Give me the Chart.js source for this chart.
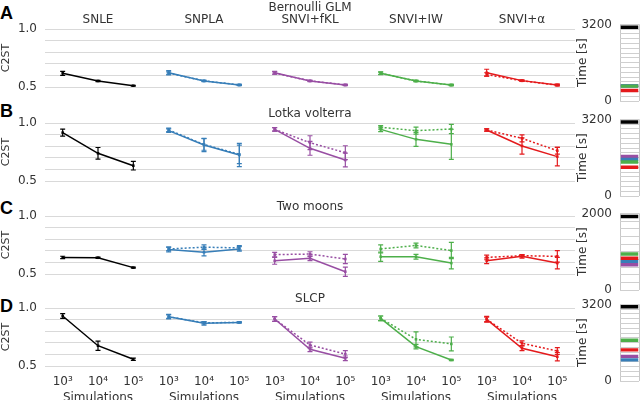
<!DOCTYPE html>
<html>
<head>
<meta charset="utf-8">
<script src="https://cdn.jsdelivr.net/npm/chart.js@4/dist/chart.umd.min.js"></script>
<style>
  body { margin: 0; width: 640px; height: 400px; position: relative; background: #fff; overflow: hidden; }
  .letter { position: absolute; left: 0; font: bold 18px "Liberation Sans", Arial, sans-serif; color: #000; line-height: 18px; }
</style>
</head>
<body>
<div class="letter" style="top:4px">A</div>
<div class="letter" style="top:102px">B</div>
<div class="letter" style="top:199px">C</div>
<div class="letter" style="top:297px">D</div>
<script>
const methods = ['SNLE', 'SNPLA', 'SNVI+fKL', 'SNVI+IW', 'SNVI+α'];
const colors = ['#000000', '#377eb8', '#984ea3', '#4daf4a', '#e41a1c'];
const simLabels = ['10³', '10⁴', '10⁵'];
const rowTitles = ['Bernoulli GLM', 'Lotka volterra', 'Two moons', 'SLCP'];

// C2ST per method at 10^3, 10^4, 10^5 simulations (solid / dotted runs)
const glmSolid = [[0.618, 0.552, 0.511], [0.623, 0.552, 0.517], [0.623, 0.552, 0.517], [0.618, 0.552, 0.517], [0.623, 0.555, 0.517]];
const glmSolidErr = [[0.017, 0.005, 0.004], [0.018, 0.006, 0.006], [0.012, 0.005, 0.006], [0.012, 0.005, 0.005], [0.03, 0.007, 0.008]];
const glmDotted = [null, [0.62, 0.553, 0.518], [0.62, 0.553, 0.518], [0.618, 0.552, 0.517], [0.608, 0.553, 0.517]];
const glmDottedErr = [null, [0.01, 0.005, 0.005], [0.01, 0.005, 0.005], [0.01, 0.005, 0.005], [0.015, 0.005, 0.005]];

const lvSolid = [[0.917, 0.739, 0.632], [0.934, 0.81, 0.724], [0.945, 0.782, 0.681], [0.945, 0.859, 0.816], [0.94, 0.802, 0.71]];
const lvSolidErr = [[0.03, 0.05, 0.037], [0.015, 0.057, 0.1], [0.015, 0.06, 0.06], [0.02, 0.06, 0.13], [0.01, 0.07, 0.08]];
const lvDotted = [null, [0.94, 0.815, 0.73], [0.945, 0.83, 0.744], [0.963, 0.934, 0.948], [0.94, 0.868, 0.761]];
const lvDottedErr = [null, [0.015, 0.05, 0.08], [0.015, 0.06, 0.06], [0.015, 0.03, 0.04], [0.01, 0.03, 0.03]];

const tmSolid = [[0.643, 0.64, 0.555], [0.711, 0.687, 0.716], [0.614, 0.635, 0.52], [0.649, 0.649, 0.594], [0.614, 0.652, 0.594]];
const tmSolidErr = [[0.01, 0.005, 0.005], [0.02, 0.03, 0.02], [0.03, 0.02, 0.04], [0.04, 0.02, 0.05], [0.025, 0.015, 0.05]];
const tmDotted = [null, [0.716, 0.731, 0.725], [0.667, 0.672, 0.629], [0.716, 0.746, 0.702], [0.643, 0.658, 0.652]];
const tmDottedErr = [null, [0.015, 0.02, 0.02], [0.02, 0.02, 0.04], [0.035, 0.02, 0.07], [0.02, 0.01, 0.05]];

const slcpSolid = [[0.931, 0.675, 0.558], [0.925, 0.868, 0.876], [0.905, 0.644, 0.566], [0.911, 0.667, 0.552], [0.902, 0.653, 0.58]];
const slcpSolidErr = [[0.02, 0.04, 0.01], [0.02, 0.015, 0.005], [0.02, 0.02, 0.02], [0.02, 0.02, 0.005], [0.025, 0.02, 0.035]];
const slcpDotted = [null, [0.925, 0.872, 0.876], [0.905, 0.681, 0.603], [0.911, 0.73, 0.69], [0.902, 0.696, 0.629]];
const slcpDottedErr = [null, [0.015, 0.01, 0.005], [0.02, 0.025, 0.03], [0.02, 0.065, 0.06], [0.02, 0.02, 0.03]];

// run time in seconds per method
const glmTime = [3080, 630, 630, 620, 440];
const lvTime = [3090, 1530, 1650, 1420, 1200];
const tmTime = [1920, 750, 660, 940, 830];
const slcpTime = [3100, 880, 1030, 1700, 1300];
const timeMax = [3200, 3200, 2000, 3200];

const rows = [
  { solid: glmSolid, solidErr: glmSolidErr, dotted: glmDotted, dottedErr: glmDottedErr, time: glmTime },
  { solid: lvSolid, solidErr: lvSolidErr, dotted: lvDotted, dottedErr: lvDottedErr, time: lvTime },
  { solid: tmSolid, solidErr: tmSolidErr, dotted: tmDotted, dottedErr: tmDottedErr, time: tmTime },
  { solid: slcpSolid, solidErr: slcpSolidErr, dotted: slcpDotted, dottedErr: slcpDottedErr, time: slcpTime }
];

const plotTop = [29, 123, 216, 308];
const timeTop = [22, 117, 211, 302];
const drawOrder = [0, 3, 3, 1, 2];   // green above blue/purple when they overlap
const FONT = '"DejaVu Sans", Verdana, sans-serif';
const TXT = '#333';

// error bars drawn through the chart scales
const errorBars = {
  id: 'errorBars',
  afterDatasetsDraw(chart) {
    const { ctx, scales: { x, y } } = chart;
    chart.data.datasets.forEach(ds => {
      if (!ds.err) return;
      ctx.save();
      ctx.strokeStyle = ds.borderColor;
      ctx.lineWidth = 1.2;
      ctx.setLineDash([]);
      ds.data.forEach((p, j) => {
        const px = x.getPixelForValue(p.x);
        const top = y.getPixelForValue(p.y + ds.err[j]);
        const bot = y.getPixelForValue(p.y - ds.err[j]);
        ctx.beginPath();
        ctx.moveTo(px, top); ctx.lineTo(px, bot);
        ctx.moveTo(px - 2.5, top); ctx.lineTo(px + 2.5, top);
        ctx.moveTo(px - 2.5, bot); ctx.lineTo(px + 2.5, bot);
        ctx.stroke();
      });
      ctx.restore();
    });
  }
};

// row title and method names
const panelText = {
  id: 'panelText',
  afterDraw(chart, args, opts) {
    const { ctx, chartArea, scales: { x } } = chart;
    ctx.save();
    ctx.fillStyle = TXT;
    ctx.font = '12px ' + FONT;
    ctx.textAlign = 'center';
    ctx.textBaseline = 'middle';
    const cx = x.getPixelForValue(7);
    if (opts.methods) {
      ctx.fillText(opts.title, cx, chartArea.top - 21);
      methods.forEach((m, i) => ctx.fillText(m, x.getPixelForValue(3 * i + 1), chartArea.top - 9));
    } else {
      ctx.fillText(opts.title, cx, chartArea.top - 9);
    }
    ctx.restore();
  }
};

function makeCanvas(left, top, w, h) {
  const c = document.createElement('canvas');
  c.width = w; c.height = h;
  c.style.cssText = `position:absolute;left:${left}px;top:${top}px;width:${w}px;height:${h}px`;
  document.body.appendChild(c);
  return c;
}

function lineDatasets(row) {
  const sets = [];
  methods.forEach((m, i) => {
    const mk = (vals, errs, dash) => ({
      data: vals.map((v, k) => ({ x: 3 * i + k, y: v })),
      err: errs,
      borderColor: colors[i],
      backgroundColor: colors[i],
      borderWidth: 1.5,
      borderDash: dash,
      pointStyle: 'rect',
      pointRadius: 1.8,
      pointBorderWidth: 0,
      tension: 0
    });
    if (row.dotted[i]) sets.push(mk(row.dotted[i], row.dottedErr[i], [2, 2]));
    sets.push(mk(row.solid[i], row.solidErr[i], []));
  });
  return sets;
}

rows.forEach((row, r) => {
  const last = r === 3;
  const bottomH = last ? 40 : 18;
  const h = 30 + 58 + bottomH;
  const canvas = makeCanvas(0, plotTop[r] - 30, 580, h);
  new Chart(canvas, {
    type: 'line',
    data: { datasets: lineDatasets(row) },
    plugins: [errorBars, panelText],
    options: {
      responsive: false,
      animation: false,
      layout: { padding: { top: 30, bottom: 0, right: 5, left: 0 } },
      plugins: {
        legend: { display: false },
        tooltip: { enabled: false },
        panelText: { title: rowTitles[r], methods: r === 0 }
      },
      scales: {
        x: {
          type: 'linear', min: -0.5, max: 14.5,
          grid: { display: false }, border: { display: false },
          afterBuildTicks: s => { s.ticks = [...Array(15).keys()].map(k => ({ value: k })); },
          ticks: {
            display: last, autoSkip: false, maxRotation: 0, color: TXT, padding: 0,
            font: { family: FONT, size: 12, lineHeight: 1.3 },
            callback: v => {
              const k = Math.round(v) % 3;
              return [simLabels[k], k === 1 ? 'Simulations' : ''];
            }
          },
          afterFit: s => { s.height = bottomH; }
        },
        y: {
          min: 0.5, max: 1.0,
          grid: { color: '#d9d9d9', drawTicks: false, lineWidth: 1 },
          border: { display: false },
          ticks: {
            stepSize: 0.1, autoSkip: false, padding: 8, color: TXT, font: { family: FONT, size: 12 },
            callback: v => Math.abs(v - 1) < 1e-6 ? '1.0' : (Math.abs(v - 0.5) < 1e-6 ? '0.5' : '')
          },
          title: { display: true, text: 'C2ST', color: TXT, font: { family: FONT, size: 11 }, padding: 0 },
          afterFit: s => { s.width = 45; }
        }
      }
    }
  });

  // run-time panel
  const tmax = timeMax[r];
  const half = tmax * 0.022;
  const tc = makeCanvas(576, timeTop[r] - 8, 64, 8 + 79 + 16);
  new Chart(tc, {
    type: 'bar',
    data: {
      labels: [''],
      datasets: methods.map((m, i) => ({
        data: [[row.time[i] - half, row.time[i] + half]],
        backgroundColor: colors[i],
        borderWidth: 0,
        grouped: false,
        order: drawOrder[i],
        barPercentage: 0.92,
        categoryPercentage: 1
      }))
    },
    options: {
      responsive: false,
      animation: false,
      layout: { padding: { top: 8, bottom: 0, right: 1, left: 0 } },
      plugins: { legend: { display: false }, tooltip: { enabled: false } },
      scales: {
        x: {
          type: 'category', offset: true,
          grid: { offset: true, color: '#c8c8c8', drawTicks: false },
          border: { display: false },
          ticks: { display: false },
          afterFit: s => { s.height = 16; }
        },
        y: {
          min: 0, max: tmax,
          grid: { color: '#cfcfcf', drawTicks: false },
          border: { display: false },
          ticks: {
            stepSize: 200, autoSkip: false, padding: 8, color: TXT, font: { family: FONT, size: 12, lineHeight: 0.4 },
            callback: v => (v === 0 || v === tmax) ? String(v) : ''
          },
          title: { display: true, text: 'Time [s]', color: TXT, font: { family: FONT, size: 12 }, padding: 0 },
          afterFit: s => { s.width = 44; }
        }
      }
    }
  });
});
</script>
</body>
</html>
